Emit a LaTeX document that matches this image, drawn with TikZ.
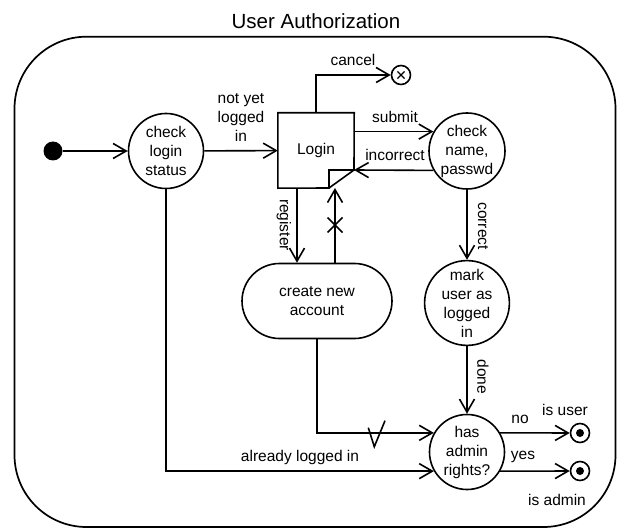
\documentclass[tikz,border=0pt]{standalone}
\usepackage{fontspec}
\setmainfont{Liberation Sans}
\usetikzlibrary{arrows.meta,calc}
\tikzset{
  lbl/.style={font=\fontsize{15.5}{19}\selectfont, inner sep=0pt, align=center},
  st/.style={draw, circle, line width=1.6pt, minimum size=75pt, inner sep=0pt, align=center, font=\fontsize{15.5}{19}\selectfont},
  conn/.style={line width=1.6pt, -{Straight Barb[length=13pt,width=15pt]}},
  plain/.style={line width=1.6pt},
  endst/.style={draw, circle, line width=1.6pt, minimum size=19pt, inner sep=0pt},
}
\begin{document}
\begin{tikzpicture}[x=1pt,y=-1pt]
\useasboundingbox (0,0) rectangle (618,529);
% title and frame
\node[font=\fontsize{20.5}{24}\selectfont, inner sep=0pt] (title) at (316,21) {User Authorization};
\draw[line width=1.7pt, rounded corners=72pt] (14.5,36.7) rectangle (615.5,527);
% states
\node[circle, fill, minimum size=19pt, inner sep=0pt] (init) at (53,151) {};
\node[st] (cls) at (166,151) {check\\login\\status};
\node[lbl, minimum width=76pt, minimum height=75pt] (login) at (316,150.5) {Login};
\coordinate (nr) at (354,170);
\coordinate (nc) at (329,188);
\draw[plain, line join=miter] (login.north west) -- (login.north east) -- (nr) -- (nc |- nr) -- (nc) -- (login.south west) -- cycle;
\draw[plain] (nc) -- (nr);
\node[st, minimum size=76pt] (cnp) at (467,151) {check\\name,\\passwd};
\node[draw, line width=1.6pt, rectangle, rounded corners=37.5pt, minimum width=150pt, minimum height=75pt, inner sep=0pt, align=center, font=\fontsize{15.5}{19}\selectfont] (cna) at (317,301) {create new\\account};
\node[st] (mul) at (467,303) {mark\\user as\\logged\\in};
\node[st] (har) at (467,452) {has\\admin\\rights?};
% cancel end
\node[endst] (cancel) at (401,75) {};
\draw[line width=1.4pt] ($(cancel)+(-3.6,-3.6)$) -- ($(cancel)+(3.6,3.6)$) ($(cancel)+(-3.6,3.6)$) -- ($(cancel)+(3.6,-3.6)$);
% final states
\node[endst] (fuser) at (580,433) {};
\fill (fuser) circle (4pt);
\node[endst] (fadmin) at (580,471) {};
\fill (fadmin) circle (4pt);
% connectors
\draw[conn] (init) -- (cls);
\draw[conn] (cls) -- (login);
\node[lbl] (lnyl) at (241,117) {not yet\\logged\\in};
\draw[conn] (login.north) |- (cancel);
\node[lbl] (lcancel) at (353,60) {cancel};
\coordinate (subst) at (login.east |- cnp.150);
\draw[conn] (subst) -- (cnp.150);
\node[lbl] (lsubmit) at (395,117) {submit};
\draw[conn] (cnp.210) -- (nr);
\node[lbl] (lincorrect) at (395,155) {incorrect};
\coordinate (regst) at (297,188);
\draw[conn] (regst) -- (regst |- cna.north);
\node[lbl, rotate=-90] (lregister) at (284,225) {register};
\coordinate (xst) at (335,188);
\draw[conn] (xst |- cna.north) -- (xst);
\draw[plain] (327.5,217.5) -- (342.5,232.5) (327.5,232.5) -- (342.5,217.5);
\draw[conn] (cnp) -- (mul);
\node[lbl, rotate=-90] (lcorrect) at (483,226) {correct};
\draw[conn] (mul) -- (har);
\node[lbl, rotate=-90] (ldone) at (483,377) {done};
\draw[conn] (cna.south) |- (har.150);
\draw[plain, line join=miter] (368.3,427.7) -- (374.3,446.7) -- (385,420.7);
\draw[conn] (cls.south) |- (har.210);
\node[lbl] (lalready) at (300,457) {already logged in};
\draw[conn] (har.30) -- (fuser);
\draw[conn] (har.-30) -- (fadmin);
\node[lbl] (lno) at (520,419) {no};
\node[lbl] (lisuser) at (565,410) {is user};
\node[lbl] (lyes) at (523,457) {yes};
\node[lbl] (lisadmin) at (557,500) {is admin};
\end{tikzpicture}
\end{document}
